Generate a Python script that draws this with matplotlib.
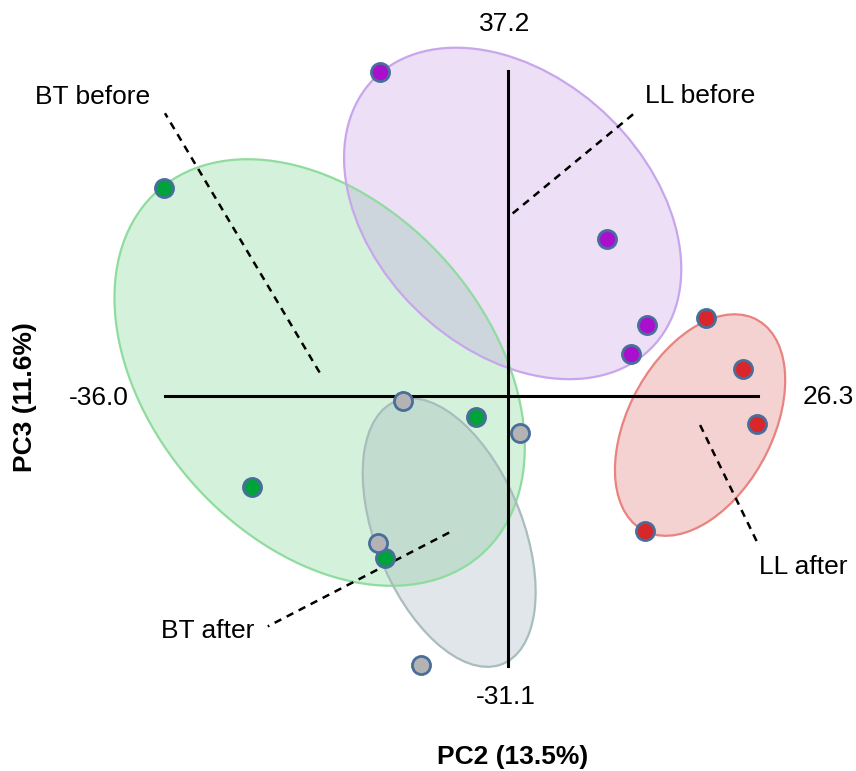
import matplotlib.pyplot as plt
from matplotlib.patches import Ellipse

plt.rcParams["font.family"] = ["Liberation Sans", "DejaVu Sans"]

# axis extents (PC2 horizontal, PC3 vertical)
pc2_range = [-36.0, 26.3]
pc3_range = [-31.1, 37.2]

groups = ["BT before", "BT after", "LL before", "LL after"]

# scores per group
bt_before_x = [-36.07, -26.85, -3.32, -12.85]
bt_before_y = [23.85, -10.47, -2.43, -18.69]
bt_after_x = [-11.01, 1.30, -13.58, -9.07]
bt_after_y = [-0.63, -4.34, -16.90, -30.93]
ll_before_x = [-13.41, 10.41, 14.61, 12.97]
ll_before_y = [37.17, 17.93, 8.13, 4.76]
ll_after_x = [20.85, 24.77, 26.17, 14.44]
ll_after_y = [8.93, 3.08, -3.31, -15.52]

# group ellipses: centre x, centre y, width, height, angle
ell_cx = [-19.75, -6.14, 0.53, 20.22]
ell_cy = [2.64, -15.73, 20.9, -3.39]
ell_w = [54.0, 32.2, 42.6, 27.0]
ell_h = [36.6, 15.6, 29.8, 15.4]
ell_ang = [-55.0, -70.7, -51.0, 65.8]

# where the label leader lines end
lab_x = [-36.0, -25.2, 13.2, 26.2]
lab_y = [32.4, -26.5, 32.3, -16.8]

pt_colors = ["#00a23c", "#b3b3b3", "#a90fcc", "#d9262a"]
fill_colors = ["#73d78a", "#9bafb9", "#c398e4", "#de6c6c"]
edge_colors = ["#8fdc9e", "#a9bcbe", "#c8a6ec", "#e8837f"]

xs = [bt_before_x, bt_after_x, ll_before_x, ll_after_x]
ys = [bt_before_y, bt_after_y, ll_before_y, ll_after_y]

fig = plt.figure(figsize=(8.56, 7.71), dpi=100)
ax = fig.add_axes([0, 0, 1, 1])
ax.set_xlim(-53.33, 36.60)
ax.set_ylim(-43.10, 45.40)
ax.axis("off")

# ellipses (green first, then purple, red, grey on top)
for i in [0, 2, 3, 1]:
    ax.add_patch(Ellipse((ell_cx[i], ell_cy[i]), ell_w[i], ell_h[i], angle=ell_ang[i],
                         facecolor=fill_colors[i], alpha=0.3, edgecolor="none", zorder=1))
    ax.add_patch(Ellipse((ell_cx[i], ell_cy[i]), ell_w[i], ell_h[i], angle=ell_ang[i],
                         facecolor="none", edgecolor=edge_colors[i], lw=1.6, zorder=1.1))

# axis cross
ax.plot(pc2_range, [0, 0], color="black", lw=2.2, zorder=2)
ax.plot([0, 0], pc3_range, color="black", lw=2.2, zorder=2)

# leader lines from ellipse centres
for i in range(4):
    ax.plot([ell_cx[i], lab_x[i]], [ell_cy[i], lab_y[i]], color="black", lw=1.8,
            linestyle=(0, (3, 2.4)), zorder=2)

for i in range(4):
    ax.scatter(xs[i], ys[i], s=170, color=pt_colors[i], edgecolor="#4a6e9b",
               linewidth=2.0, zorder=3)

fs = 19
# group labels
ax.annotate("BT before", (lab_x[0], lab_y[0]), xytext=(-52, 12), textcoords="offset points",
            ha="center", va="center", fontsize=fs)
ax.annotate("LL before", (lab_x[2], lab_y[2]), xytext=(48, 13), textcoords="offset points",
            ha="center", va="center", fontsize=fs)
ax.annotate("LL after", (lab_x[3], lab_y[3]), xytext=(33, -18), textcoords="offset points",
            ha="center", va="center", fontsize=fs)
ax.annotate("BT after", (lab_x[1], lab_y[1]), xytext=(-43, -3), textcoords="offset points",
            ha="center", va="center", fontsize=fs)

# axis end values
ax.annotate(f"{pc3_range[1]:.1f}", (0, pc3_range[1]), xytext=(-2, 34), textcoords="offset points",
            ha="center", va="center", fontsize=fs)
ax.annotate(f"{pc3_range[0]:.1f}", (0, pc3_range[0]), xytext=(-1, -22), textcoords="offset points",
            ha="center", va="center", fontsize=fs)
ax.annotate(f"{pc2_range[0]:.1f}", (pc2_range[0], 0), xytext=(-26, -2), textcoords="offset points",
            ha="right", va="center", fontsize=fs)
ax.annotate(f"{pc2_range[1]:.1f}", (pc2_range[1], 0), xytext=(32, -1), textcoords="offset points",
            ha="left", va="center", fontsize=fs)

fig.text(0.599, 0.018, "PC2 (13.5%)", ha="center", va="center", fontsize=fs, fontweight="bold")
fig.text(0.029, 0.485, "PC3 (11.6%)", ha="center", va="center", fontsize=fs,
         fontweight="bold", rotation=90)

fig.savefig("out.png", dpi=100)
